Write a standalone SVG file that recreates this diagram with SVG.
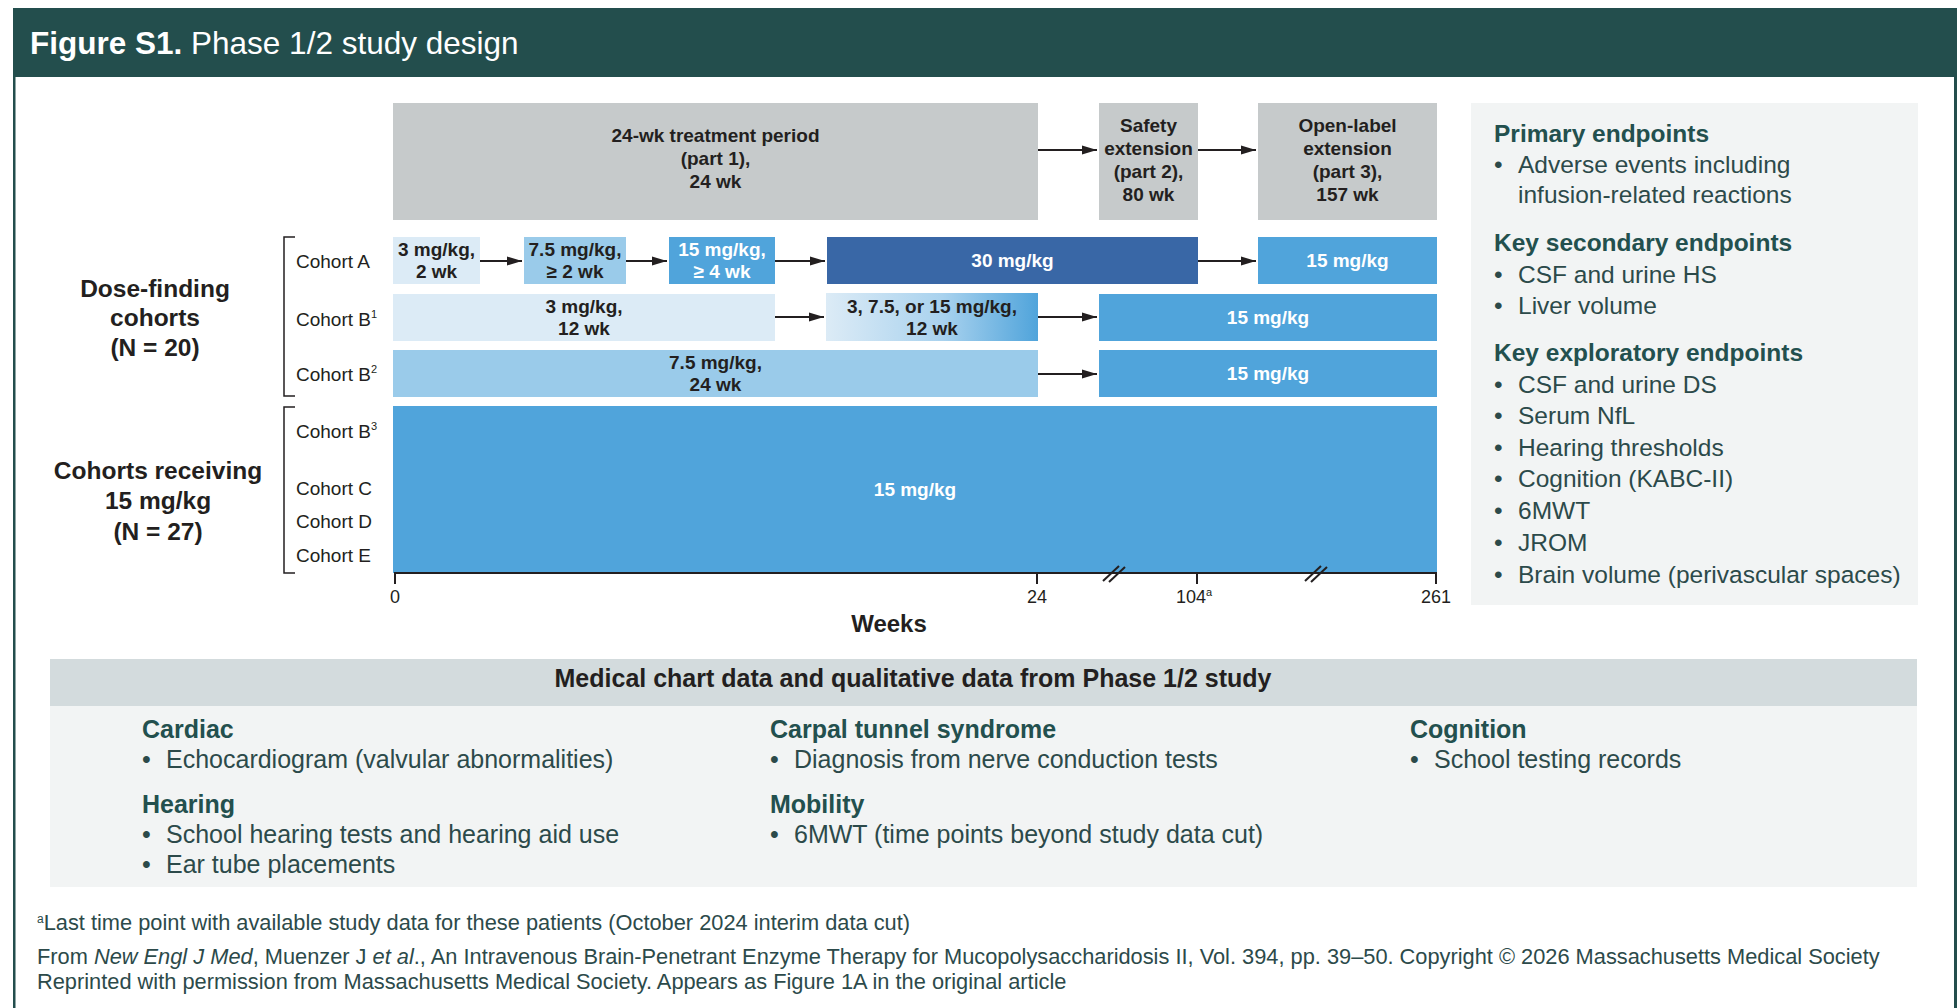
<svg xmlns="http://www.w3.org/2000/svg" width="1957" height="1008" viewBox="0 0 1957 1008">
<style>
text{font-family:"Liberation Sans",Arial,sans-serif}
.b{font-weight:bold}
.bx{font-size:19px;font-weight:bold;fill:#231F20;text-anchor:middle}
.wt{fill:#FFFFFF}
.gray{fill:#C6CACB}
.c1{fill:#DCEBF6}.c2{fill:#9ACBEA}.c3{fill:#50A4DB}.c4{fill:#3967A6}
.lbl{font-size:19px;fill:#231F20}
.big{font-size:24.5px;font-weight:bold;fill:#231F20;text-anchor:middle}
.hd{font-size:24.5px;font-weight:bold;fill:#23504E}
.it{font-size:24.5px;fill:#2C4A4A}
.hd2{font-size:25px;font-weight:bold;fill:#23504E}
.it2{font-size:25px;fill:#2C4A4A}
.ar{stroke:#231F20;stroke-width:2;fill:none;marker-end:url(#ah)}
.tick{font-size:18px;fill:#231F20;text-anchor:middle}
.fn{font-size:21.8px;fill:#2C4A4A}
</style>
<defs>
<marker id="ah" markerUnits="userSpaceOnUse" markerWidth="15" markerHeight="10" refX="15" refY="5" orient="auto">
<path d="M0,0.5 L15,5 L0,9.5 Z" fill="#231F20"/>
</marker>
<linearGradient id="grad" x1="0" y1="0" x2="1" y2="0">
<stop offset="0" stop-color="#DCEBF6"/>
<stop offset="0.55" stop-color="#A9D2EE"/>
<stop offset="1" stop-color="#50A4DB"/>
</linearGradient>
</defs>
<rect x="0" y="0" width="1957" height="1008" fill="#FFFFFF"/>
<g id="frame">
<rect x="13" y="8" width="1944" height="69" fill="#234E4D"/>
<rect x="13" y="77" width="2.5" height="931" fill="#234E4D"/>
<rect x="1954" y="77" width="3" height="931" fill="#234E4D"/>
<text x="30" y="54" font-size="31.5" fill="#FFFFFF"><tspan font-weight="bold">Figure S1.</tspan> Phase 1/2 study design</text>
</g>

<g id="phase-boxes">
<g id="part1"><rect class="gray" x="393" y="103" width="645" height="117"/>
<text class="bx" x="715.5" y="142">24-wk treatment period</text>
<text class="bx" x="715.5" y="165">(part 1),</text>
<text class="bx" x="715.5" y="188">24 wk</text></g>
<g id="part2"><rect class="gray" x="1099" y="103" width="99" height="117"/>
<text class="bx" x="1148.5" y="132">Safety</text>
<text class="bx" x="1148.5" y="155">extension</text>
<text class="bx" x="1148.5" y="178">(part 2),</text>
<text class="bx" x="1148.5" y="201">80 wk</text></g>
<g id="part3"><rect class="gray" x="1258" y="103" width="179" height="117"/>
<text class="bx" x="1347.5" y="132">Open-label</text>
<text class="bx" x="1347.5" y="155">extension</text>
<text class="bx" x="1347.5" y="178">(part 3),</text>
<text class="bx" x="1347.5" y="201">157 wk</text></g>
</g>

<g id="cohortA">
<g id="A1"><rect class="c1" x="393" y="237" width="87" height="47"/>
<text class="bx" x="436.5" y="256">3 mg/kg,</text><text class="bx" x="436.5" y="278">2 wk</text></g>
<g id="A2"><rect class="c2" x="524" y="237" width="102" height="47"/>
<text class="bx" x="575" y="256">7.5 mg/kg,</text><text class="bx" x="575" y="278">≥ 2 wk</text></g>
<g id="A3"><rect class="c3" x="669" y="237" width="106" height="47"/>
<text class="bx wt" x="722" y="256">15 mg/kg,</text><text class="bx wt" x="722" y="278">≥ 4 wk</text></g>
<g id="A4"><rect class="c4" x="827" y="237" width="371" height="47"/>
<text class="bx wt" x="1012.5" y="267">30 mg/kg</text></g>
<g id="A5"><rect class="c3" x="1258" y="237" width="179" height="47"/>
<text class="bx wt" x="1347.5" y="267">15 mg/kg</text></g>
</g>

<g id="cohortB1">
<g id="B1a"><rect class="c1" x="393" y="294" width="382" height="47"/>
<text class="bx" x="584" y="313">3 mg/kg,</text><text class="bx" x="584" y="335">12 wk</text></g>
<g id="B1b"><rect fill="url(#grad)" x="826" y="293" width="212" height="48"/>
<text class="bx" x="932" y="313">3, 7.5, or 15 mg/kg,</text><text class="bx" x="932" y="335">12 wk</text></g>
<g id="B1c"><rect class="c3" x="1099" y="294" width="338" height="47"/>
<text class="bx wt" x="1268" y="324">15 mg/kg</text></g>
</g>

<g id="cohortB2">
<g id="B2a"><rect class="c2" x="393" y="350" width="645" height="47"/>
<text class="bx" x="715.5" y="369">7.5 mg/kg,</text><text class="bx" x="715.5" y="391">24 wk</text></g>
<g id="B2b"><rect class="c3" x="1099" y="350" width="338" height="47"/>
<text class="bx wt" x="1268" y="380">15 mg/kg</text></g>
</g>

<g id="cohort15">
<rect class="c3" x="393" y="406" width="1044" height="167"/>
<text class="bx wt" x="915" y="496">15 mg/kg</text>
</g>

<g id="connectors">
<line class="ar" x1="1038" y1="150" x2="1097" y2="150"/>
<line class="ar" x1="1198" y1="150" x2="1256" y2="150"/>
<line class="ar" x1="480" y1="261" x2="522" y2="261"/>
<line class="ar" x1="626" y1="261" x2="667" y2="261"/>
<line class="ar" x1="775" y1="261" x2="825" y2="261"/>
<line class="ar" x1="1198" y1="261" x2="1256" y2="261"/>
<line class="ar" x1="775" y1="317" x2="824" y2="317"/>
<line class="ar" x1="1038" y1="317" x2="1097" y2="317"/>
<line class="ar" x1="1038" y1="374" x2="1097" y2="374"/>
</g>

<g id="axis" stroke="#231F20" stroke-width="2" fill="none">
<line x1="394" y1="573" x2="1437" y2="573"/>
<line x1="395" y1="573" x2="395" y2="584"/>
<line x1="1037" y1="573" x2="1037" y2="584"/>
<line x1="1197" y1="573" x2="1197" y2="584"/>
<line x1="1436" y1="573" x2="1436" y2="584"/>
<line x1="1103" y1="581" x2="1119" y2="566"/>
<line x1="1109" y1="582" x2="1125" y2="567"/>
<line x1="1305" y1="581" x2="1321" y2="566"/>
<line x1="1311" y1="582" x2="1327" y2="567"/>
</g>
<g id="axis-labels">
<text class="tick" x="395" y="603">0</text>
<text class="tick" x="1037" y="603">24</text>
<text class="tick" x="1194" y="603">104<tspan font-size="11" dy="-7">a</tspan></text>
<text class="tick" x="1436" y="603">261</text>
<text x="889" y="632" font-size="24" font-weight="bold" fill="#231F20" text-anchor="middle">Weeks</text>
</g>

<g id="group-dose-finding">
<text class="big" x="155" y="297">Dose-finding</text>
<text class="big" x="155" y="326">cohorts</text>
<text class="big" x="155" y="356">(N = 20)</text>
<path d="M295,237 H284 V396 H295" fill="none" stroke="#231F20" stroke-width="1.5"/>
<text class="lbl" x="296" y="268">Cohort A</text>
<text class="lbl" x="296" y="326">Cohort B<tspan font-size="11" dy="-8">1</tspan></text>
<text class="lbl" x="296" y="381">Cohort B<tspan font-size="11" dy="-8">2</tspan></text>
</g>
<g id="group-15mgkg">
<text class="big" x="158" y="479">Cohorts receiving</text>
<text class="big" x="158" y="509">15 mg/kg</text>
<text class="big" x="158" y="540">(N = 27)</text>
<path d="M295,407 H284 V573 H295" fill="none" stroke="#231F20" stroke-width="1.5"/>
<text class="lbl" x="296" y="438">Cohort B<tspan font-size="11" dy="-8">3</tspan></text>
<text class="lbl" x="296" y="495">Cohort C</text>
<text class="lbl" x="296" y="528">Cohort D</text>
<text class="lbl" x="296" y="562">Cohort E</text>
</g>

<g id="endpoints">
<rect x="1471" y="103" width="447" height="502" fill="#F2F4F4"/>
<text class="hd" x="1494" y="142">Primary endpoints</text>
<text class="it" x="1494" y="173">•</text><text class="it" x="1518" y="173">Adverse events including</text>
<text class="it" x="1518" y="203">infusion-related reactions</text>
<text class="hd" x="1494" y="251">Key secondary endpoints</text>
<text class="it" x="1494" y="283">•</text><text class="it" x="1518" y="283">CSF and urine HS</text>
<text class="it" x="1494" y="314">•</text><text class="it" x="1518" y="314">Liver volume</text>
<text class="hd" x="1494" y="361">Key exploratory endpoints</text>
<text class="it" x="1494" y="393">•</text><text class="it" x="1518" y="393">CSF and urine DS</text>
<text class="it" x="1494" y="424">•</text><text class="it" x="1518" y="424">Serum NfL</text>
<text class="it" x="1494" y="456">•</text><text class="it" x="1518" y="456">Hearing thresholds</text>
<text class="it" x="1494" y="487">•</text><text class="it" x="1518" y="487">Cognition (KABC-II)</text>
<text class="it" x="1494" y="519">•</text><text class="it" x="1518" y="519">6MWT</text>
<text class="it" x="1494" y="551">•</text><text class="it" x="1518" y="551">JROM</text>
<text class="it" x="1494" y="583">•</text><text class="it" x="1518" y="583">Brain volume (perivascular spaces)</text>
</g>

<g id="medical-chart">
<rect x="50" y="659" width="1867" height="47" fill="#D3DBDD"/>
<rect x="50" y="706" width="1867" height="181" fill="#F2F4F4"/>
<text x="913" y="687" font-size="25" font-weight="bold" fill="#231F20" text-anchor="middle">Medical chart data and qualitative data from Phase 1/2 study</text>
<text class="hd2" x="142" y="738">Cardiac</text>
<text class="it2" x="142" y="768">•</text><text class="it2" x="166" y="768">Echocardiogram (valvular abnormalities)</text>
<text class="hd2" x="142" y="813">Hearing</text>
<text class="it2" x="142" y="843">•</text><text class="it2" x="166" y="843">School hearing tests and hearing aid use</text>
<text class="it2" x="142" y="873">•</text><text class="it2" x="166" y="873">Ear tube placements</text>
<text class="hd2" x="770" y="738">Carpal tunnel syndrome</text>
<text class="it2" x="770" y="768">•</text><text class="it2" x="794" y="768">Diagnosis from nerve conduction tests</text>
<text class="hd2" x="770" y="813">Mobility</text>
<text class="it2" x="770" y="843">•</text><text class="it2" x="794" y="843">6MWT (time points beyond study data cut)</text>
<text class="hd2" x="1410" y="738">Cognition</text>
<text class="it2" x="1410" y="768">•</text><text class="it2" x="1434" y="768">School testing records</text>
</g>

<g id="footnotes">
<text class="fn" x="37" y="930" font-size="20.8"><tspan font-size="12" dy="-7">a</tspan><tspan dy="7">Last time point with available study data for these patients (October 2024 interim data cut)</tspan></text>
<text class="fn" x="37" y="964" font-size="21.7">From <tspan font-style="italic">New Engl J Med</tspan>, Muenzer J <tspan font-style="italic">et al</tspan>., An Intravenous Brain-Penetrant Enzyme Therapy for Mucopolysaccharidosis II, Vol. 394, pp. 39–50. Copyright © 2026 Massachusetts Medical Society</text>
<text class="fn" x="37" y="989" font-size="22">Reprinted with permission from Massachusetts Medical Society. Appears as Figure 1A in the original article</text>
</g>
</svg>
